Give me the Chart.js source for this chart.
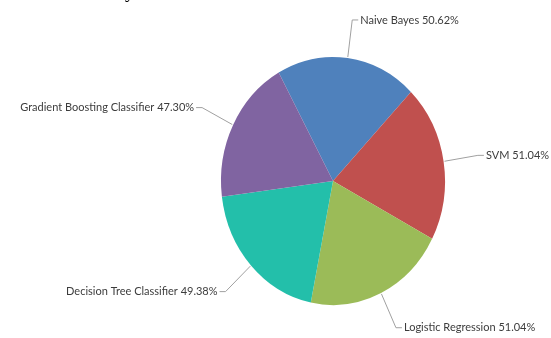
<!DOCTYPE html>
<html>
<head>
<meta charset="utf-8">
<script src="https://cdn.jsdelivr.net/npm/chart.js@4.4.1/dist/chart.umd.min.js"></script>
<style>
  html, body { margin: 0; padding: 0; background: #fff; }
  #wrap { position: relative; width: 551px; height: 338px; overflow: hidden; }
  #frag { position: absolute; left: 125px; top: -19px; font: 19px "Liberation Serif", serif; color: #000; }
</style>
</head>
<body>
<div id="wrap">
  <span id="frag">y</span>
  <canvas id="accChart" width="551" height="338"></canvas>
</div>
<script>
const models = ['Naive Bayes', 'SVM', 'Logistic Regression', 'Decision Tree Classifier', 'Gradient Boosting Classifier'];
const accuracy = [50.62, 51.04, 51.04, 49.38, 47.30];
const sliceColors = ['#4F81BC', '#C0504E', '#9BBB58', '#23BFAA', '#8064A1'];

// pie in the picture is a bit narrower than tall
const squashX = 112 / 124;

const squashPie = {
    id: 'squashPie',
    beforeDatasetsDraw(chart) {
        const arc = chart.getDatasetMeta(0).data[0];
        const {ctx} = chart;
        ctx.save();
        ctx.translate(arc.x, arc.y);
        ctx.scale(squashX, 1);
        ctx.translate(-arc.x, -arc.y);
    },
    afterDatasetsDraw(chart) {
        chart.ctx.restore();
    }
};

// leader lines + labels like the original
const pieLabels = {
    id: 'pieLabels',
    afterDraw(chart) {
        const {ctx} = chart;
        const meta = chart.getDatasetMeta(0);
        ctx.save();
        ctx.font = '11px Lato, "Open Sans", sans-serif';
        ctx.textBaseline = 'middle';
        meta.data.forEach((arc, i) => {
            const mid = (arc.startAngle + arc.endAngle) / 2;
            const r = arc.outerRadius;
            const cx = Math.cos(mid), cy = Math.sin(mid);
            const x0 = arc.x + squashX * (r + 1) * cx;
            const y0 = arc.y + (r + 1) * cy;
            const x1 = arc.x + squashX * r * 1.31 * cx;
            const y1 = arc.y + r * 1.31 * cy;
            const dir = cx >= 0 ? 1 : -1;
            const x2 = x1 + dir * 6;

            ctx.strokeStyle = '#a0a0a0';
            ctx.lineWidth = 1;
            ctx.beginPath();
            ctx.moveTo(x0, y0);
            ctx.lineTo(x1, y1);
            ctx.lineTo(x2, y1);
            ctx.stroke();

            ctx.fillStyle = '#3c3c3c';
            ctx.textAlign = dir > 0 ? 'left' : 'right';
            ctx.fillText(models[i] + ' ' + accuracy[i].toFixed(2) + '%', x2 + dir * 2, y1);
        });
        ctx.restore();
    }
};

new Chart(document.getElementById('accChart'), {
    type: 'pie',
    data: {
        labels: models,
        datasets: [{
            data: accuracy,
            backgroundColor: sliceColors,
            borderWidth: 0
        }]
    },
    options: {
        responsive: false,
        animation: false,
        rotation: -29,
        layout: {
            padding: { left: 209, right: 94, top: 57, bottom: 33 }
        },
        plugins: {
            legend: { display: false },
            tooltip: { enabled: false }
        }
    },
    plugins: [squashPie, pieLabels]
});
</script>
</body>
</html>
